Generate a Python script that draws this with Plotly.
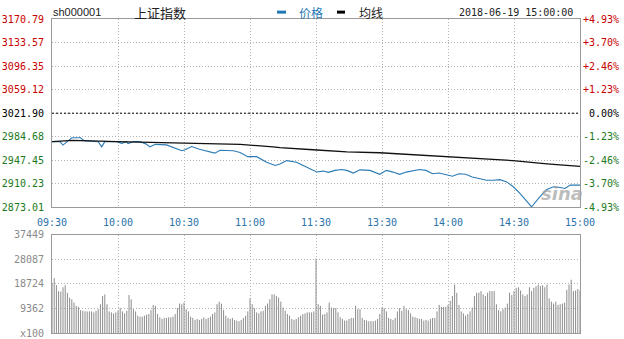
import plotly.graph_objects as go

# ---------------- data ----------------
prev_close = 3021.90
price_ticks = [2873.01, 2910.23, 2947.45, 2984.68, 3021.90, 3059.12, 3096.35, 3133.57, 3170.79]
pct_labels = ["-4.93%", "-3.70%", "-2.46%", "-1.23%", "0.00%", "+1.23%", "+2.46%", "+3.70%", "+4.93%"]
time_ticks = [0, 30, 60, 90, 120, 150, 180, 210, 240]
time_labels = ["09:30", "10:00", "10:30", "11:00", "11:30", "13:30", "14:00", "14:30", "15:00"]
vol_ticks = [0, 9362, 18724, 28087, 37449]
vol_labels = ["x100", "9362", "18724", "28087", "37449"]

# minute index (0 = 09:30, 120 = 11:30/13:00, 240 = 15:00)
price_min = [0, 3.6, 5, 7, 9, 13, 14.5, 21, 22.6, 24, 29.5, 31.7, 34, 34.5, 37, 40, 43, 44.5, 47,
             52, 55, 59, 60.5, 63.5, 67, 70, 74, 76.4, 79.4, 82.4, 85.5, 89, 93, 97.6, 101.4,
             103.6, 106.7, 111.2, 114.2, 118.8, 120.3, 123.3, 125.6, 128.6, 131.7, 134, 137, 140,
             144.5, 149, 152, 155, 158, 161, 164, 167, 170, 173, 176, 179, 182, 185, 188, 191,
             194.5, 197.6, 200.6, 203.6, 206.7, 209.7, 212.7, 215.8, 218, 218.8, 221.8, 224.9,
             227.9, 230.9, 233.2, 235.5, 240]
price_val = [2976.9, 2976.9, 2971.5, 2978.0, 2983.1, 2983.1, 2978.5, 2976.9, 2968.7, 2976.9,
             2976.9, 2974.3, 2976.9, 2973.8, 2976.9, 2976.9, 2972.7, 2968.7, 2972.7, 2971.8,
             2967.6, 2962.5, 2964.0, 2969.2, 2965.0, 2962.5, 2958.8, 2963.4, 2962.5, 2962.5,
             2959.9, 2953.2, 2953.2, 2944.4, 2939.2, 2941.7, 2947.0, 2944.4, 2939.2, 2931.5,
             2928.9, 2930.4, 2928.4, 2931.5, 2933.0, 2931.5, 2927.3, 2932.4, 2931.5, 2925.3,
             2931.5, 2928.8, 2925.3, 2928.8, 2931.5, 2933.0, 2931.5, 2926.2, 2927.3, 2925.3,
             2922.2, 2926.2, 2925.3, 2921.1, 2918.5, 2916.0, 2916.0, 2916.9, 2913.3, 2905.6,
             2895.2, 2882.3, 2873.8, 2877.2, 2890.1, 2901.4, 2905.6, 2904.5, 2902.9, 2908.2,
             2908.2]

avg_min = [0, 9.5, 29.5, 55, 85.5, 100.5, 103.6, 118.6, 134, 149, 164, 179.4, 194.5, 209.5, 225, 240]
avg_val = [2976.9, 2978.9, 2976.9, 2975.4, 2972.7, 2968.7, 2967.6, 2964.1, 2960.9, 2959.4,
           2956.3, 2953.7, 2951.0, 2947.0, 2941.7, 2937.7]

volume = [19000,
          20970, 18220, 15970, 15720, 17470, 18220, 15350, 13480, 12850, 11610,
          10360, 9980, 8740, 8490, 8240, 8240, 8240, 8240, 7860, 8490,
          9110, 10980, 14100, 14730, 10980, 8240, 7860, 7490, 7860, 8490,
          9490, 8240, 7490, 8490, 14480, 12850, 9110, 8240, 6610, 6240,
          6240, 6610, 6990, 7240, 8740, 10730, 10360, 7240, 5990, 5370,
          5740, 5740, 5990, 5990, 6240, 7240, 9490, 11230, 10980, 11610,
          9110, 8240, 6240, 5740, 4990, 5370, 4990, 5370, 5990, 5370,
          5740, 6240, 7240, 7860, 10980, 11980, 11230, 8740, 6610, 5740,
          5370, 5740, 4990, 4740, 4490, 4990, 5740, 6610, 8240, 13230,
          10980, 9490, 7860, 7490, 8240, 8490, 10360, 11230, 12850, 14730,
          14730, 14100, 13480, 11980, 9730, 8490, 7240, 6610, 5370, 4990,
          5370, 5990, 6610, 7240, 7490, 7860, 7860, 7860, 8240, 28450,
          10980, 10360, 6990, 7240, 7860, 11610, 9730, 9490, 9490, 7860,
          5990, 5370, 4740, 4740, 5370, 5740, 5740, 10360, 9110, 9110,
          5740, 4990, 4740, 4490, 4490, 4490, 4740, 5370, 7240, 9730,
          9490, 8240, 5740, 5370, 4990, 5740, 8240, 9490, 8490, 10360,
          9110, 8740, 7490, 6240, 5990, 5740, 5370, 5370, 4740, 4990,
          4740, 5370, 5740, 5740, 8240, 10730, 9980, 9980, 9980, 10730,
          12230, 14100, 18470, 15350, 10730, 8240, 7490, 6610, 7240, 8240,
          9730, 14100, 15350, 15350, 15970, 14730, 14100, 15350, 15970, 15970,
          15970, 10980, 8740, 8240, 9110, 9730, 11230, 15350, 14480, 15970,
          17220, 17470, 16220, 14730, 14100, 14730, 17470, 15970, 17220, 17850,
          18470, 17850, 18220, 17470, 18470, 13230, 11980, 11230, 11980, 10730,
          10980, 11230, 11610, 16470, 18470, 20340, 15970, 16220, 16800, 16200]
vol_idx = list(range(len(volume)))

# ---------------- styles ----------------
RED = "#c80000"
GREEN = "#1b7a1b"
BLUE = "#2a72a8"
LINE_BLUE = "#2b7bb5"
GRID = "#b4b4b4"
BORDER = "#9a9a9a"
MONO = "DejaVu Sans Mono"

def colored(lbl, val):
    if abs(val - prev_close) < 1e-6:
        c = "#000000"
    elif val > prev_close:
        c = RED
    else:
        c = GREEN
    return f'<span style="color:{c}">{lbl}</span>'

left_text = [colored(f"{v:.2f}", v) for v in price_ticks]
right_text = [colored(("\u00a0" if len(l) == 5 else "") + l, v) for l, v in zip(pct_labels, price_ticks)]

# volume bars drawn as thin vertical strokes (one per minute) built from the data
stick_x, stick_y = [], []
for i, v in zip(vol_idx, volume):
    stick_x += [i, i, None]
    stick_y += [0, v, None]

fig = go.Figure()
fig.add_trace(go.Scatter(x=stick_x, y=stick_y, xaxis="x2", yaxis="y3", mode="lines",
                         line=dict(color="#8c8c8c", width=1), hoverinfo="skip",
                         connectgaps=False))
fig.add_trace(go.Scatter(x=price_min, y=price_val, mode="lines",
                         line=dict(color=LINE_BLUE, width=1.1), hoverinfo="skip"))
fig.add_trace(go.Scatter(x=avg_min, y=avg_val, mode="lines",
                         line=dict(color="#111111", width=1.3), hoverinfo="skip"))
fig.add_trace(go.Scatter(x=[0], y=[prev_close], yaxis="y2", mode="markers",
                         marker=dict(opacity=0), hoverinfo="skip"))

axis_common = dict(showline=True, mirror=True, linecolor=BORDER, linewidth=1,
                   showgrid=True, gridcolor=GRID, griddash="1px,2px", gridwidth=1,
                   zeroline=False, ticks="", fixedrange=True)

fig.update_layout(
    width=624, height=339,
    margin=dict(l=52, r=44, t=19, b=0),
    paper_bgcolor="white", plot_bgcolor="white",
    showlegend=False,
    xaxis=dict(domain=[0, 1], anchor="y", range=[0, 240], tickvals=time_ticks,
               ticktext=time_labels, tickfont=dict(family=MONO, size=10, color=BLUE),
               ticklabelstandoff=6, **axis_common),
    yaxis=dict(domain=[0.4, 1.0], anchor="x", range=[price_ticks[0], price_ticks[-1]],
               tickvals=price_ticks, ticktext=left_text,
               tickfont=dict(family=MONO, size=10), ticklabelstandoff=5, **axis_common),
    yaxis2=dict(overlaying="y", side="right", anchor="x", range=[price_ticks[0], price_ticks[-1]],
                tickvals=price_ticks, ticktext=right_text, showgrid=False, zeroline=False,
                showline=False, ticks="", tickfont=dict(family=MONO, size=10),
                ticklabelstandoff=2, fixedrange=True),
    xaxis2=dict(domain=[0, 1], anchor="y3", range=[0, 240], tickvals=time_ticks,
                showticklabels=False, **axis_common),
    yaxis3=dict(domain=[0, 0.3125], anchor="x2", range=[0, vol_ticks[-1]], tickvals=vol_ticks,
                ticktext=vol_labels, tickfont=dict(family=MONO, size=10, color="#8a8a8a"),
                ticklabelstandoff=5, **axis_common),
)

# previous-close reference line
fig.add_shape(type="line", xref="x", yref="y", x0=0, x1=240, y0=prev_close, y1=prev_close,
              line=dict(color="#000000", width=1, dash="2px,2px"), layer="above")

# header
hy = 1.0219
fig.add_annotation(x=-0.002, y=hy, xref="paper", yref="paper", text="sh000001",
                   showarrow=False, xanchor="left", yanchor="middle",
                   font=dict(family="Liberation Sans", size=11, color="#222222"))
fig.add_annotation(x=0.1515, y=hy, xref="paper", yref="paper", text="上证指数",
                   showarrow=False, xanchor="left", yanchor="middle",
                   font=dict(family="Noto Sans CJK SC", size=13, color="#222222"))
fig.add_shape(type="line", xref="paper", yref="paper", x0=0.4261, x1=0.4432, y0=hy, y1=hy,
              line=dict(color="#1f78b4", width=3))
fig.add_annotation(x=0.464, y=hy, xref="paper", yref="paper", text="价格",
                   showarrow=False, xanchor="left", yanchor="middle",
                   font=dict(family="Noto Sans CJK SC", size=12, color="#1f78b4"))
fig.add_shape(type="line", xref="paper", yref="paper", x0=0.5398, x1=0.5549, y0=hy, y1=hy,
              line=dict(color="#000000", width=3))
fig.add_annotation(x=0.5777, y=hy, xref="paper", yref="paper", text="均线",
                   showarrow=False, xanchor="left", yanchor="middle",
                   font=dict(family="Noto Sans CJK SC", size=12, color="#222222"))
fig.add_annotation(x=0.9905, y=hy, xref="paper", yref="paper", text="2018-06-19 15:00:00",
                   showarrow=False, xanchor="right", yanchor="middle",
                   font=dict(family=MONO, size=10, color="#222222"))

# watermark
fig.add_annotation(x=0.966, y=0.445, xref="paper", yref="paper", text="<b><i>sina</i></b>",
                   showarrow=False, xanchor="center", yanchor="middle",
                   font=dict(family="DejaVu Sans", size=18, color="rgba(160,160,160,0.7)"))

fig.write_html("out.html")
